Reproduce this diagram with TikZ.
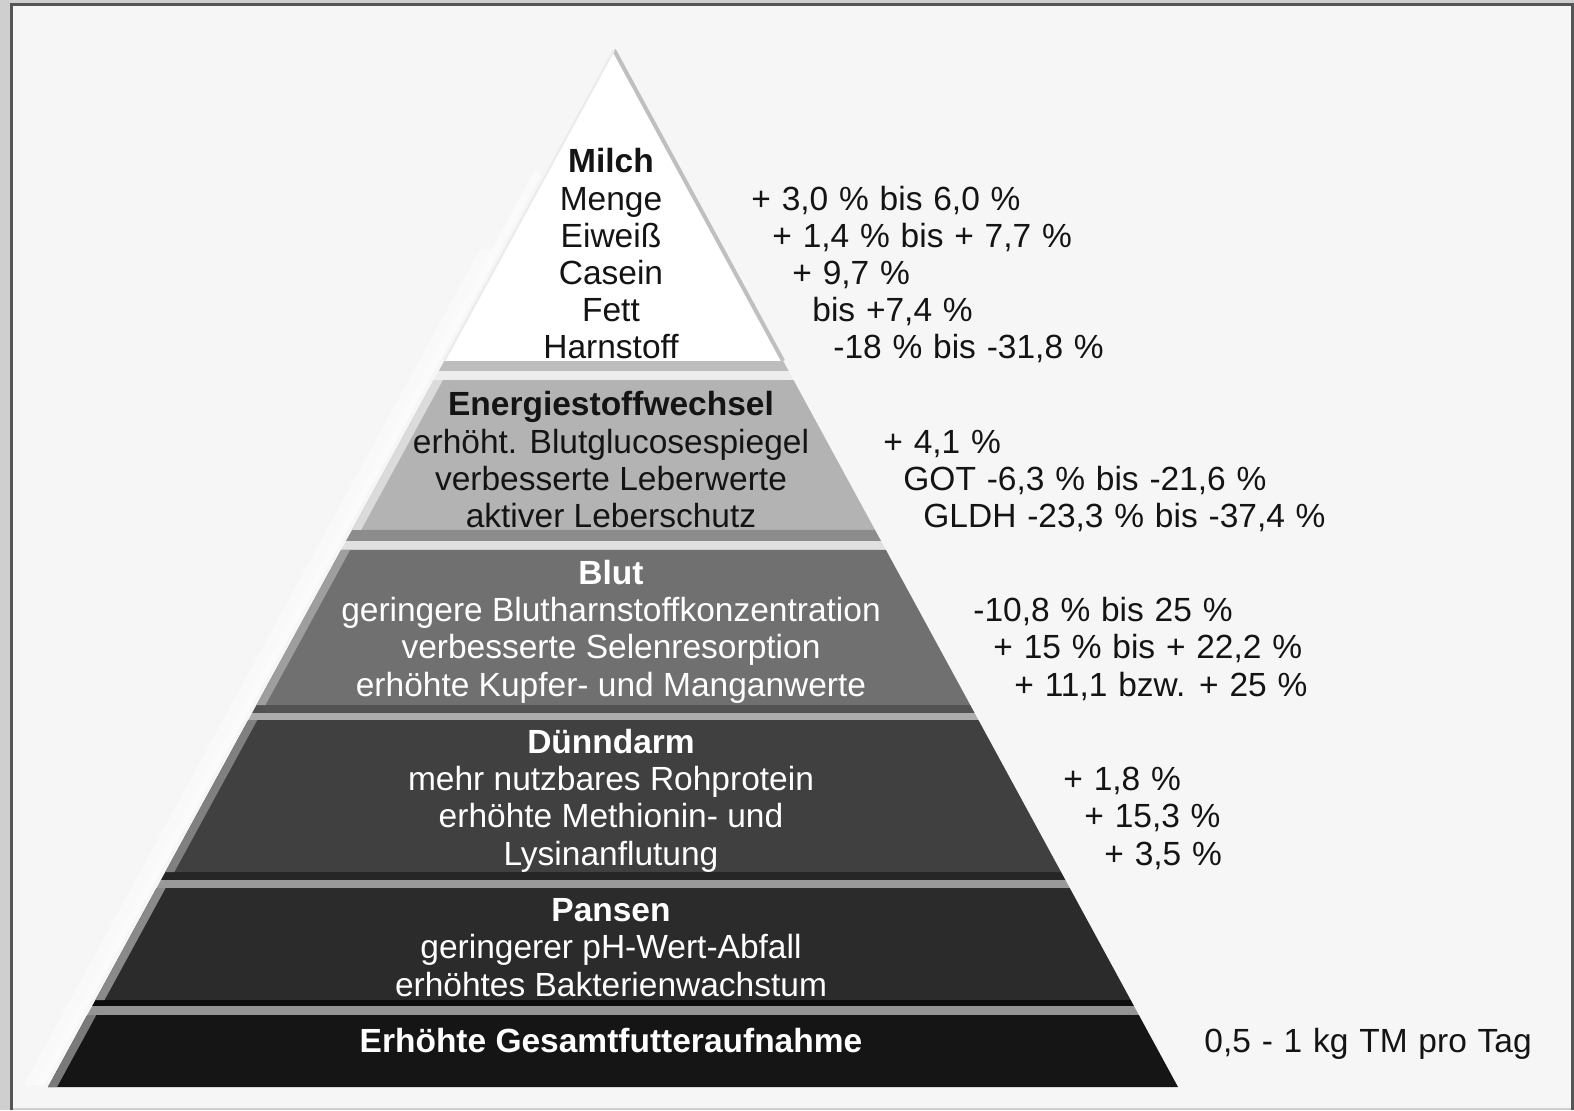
\documentclass[tikz,border=0pt]{standalone}
\usepackage{fontspec}
\setmainfont{Liberation Sans}
\usetikzlibrary{calc}

\definecolor{outerbg}{HTML}{CFCFCF}
\definecolor{pagebg}{HTML}{F6F6F6}
\definecolor{framec}{HTML}{555555}
\definecolor{tierA}{HTML}{FFFFFF}
\definecolor{tierB}{HTML}{B3B3B3}
\definecolor{tierC}{HTML}{707070}
\definecolor{tierD}{HTML}{404040}
\definecolor{tierE}{HTML}{2B2B2B}
\definecolor{tierF}{HTML}{151515}
\definecolor{inktext}{HTML}{141414}

% horizontal slice of the pyramid between heights #1 and #2
\newcommand\pyrslab[3]{%
  \fill[#3] ($(A)!{(#1-50)/1037}!(BL)$) -- ($(A)!{(#1-50)/1037}!(BR)$)
    -- ($(A)!{(#2-50)/1037}!(BR)$) -- ($(A)!{(#2-50)/1037}!(BL)$) -- cycle;}
% lighter bevel along the left face of a slice
\newcommand\pyrbevel[3]{%
  \fill[#3] ($(A)!{(#1-50)/1037}!(BL)$) -- ($(A)!{(#1-50)/1037}!(BL)+(9,0)$)
    -- ($(A)!{(#2-50)/1037}!(BL)+(9,0)$) -- ($(A)!{(#2-50)/1037}!(BL)$) -- cycle;}
% font of the value column, with slightly wider word spaces
\newcommand\valfont{\fontsize{16.75}{18}\selectfont\spaceskip=5.4pt plus 1pt\relax}

\begin{document}
\begin{tikzpicture}[x=0.5pt,y=-0.5pt,
  lbl/.style={anchor=base, inner sep=0pt, font=\fontsize{16.75}{18}\selectfont},
  hd/.style={lbl, font=\fontsize{16.75}{18}\selectfont\bfseries},
  val/.style={anchor=base west, inner sep=0pt, text=inktext, font=\valfont},
  dk/.style={text=inktext},
  lt/.style={text=white}]

\useasboundingbox (0,0) rectangle (1574,1110);
% page and frame
\fill[outerbg] (0,0) rectangle (1574,1110);
\fill[pagebg] (11.5,4) rectangle (1572.5,1108);
\draw[framec, line width=1.5pt] (11.5,1110) -- (11.5,4) -- (1572.5,4) -- (1572.5,1110);

\coordinate (A) at (614,50);
\coordinate (BL) at (48,1087);
\coordinate (BR) at (1178,1087);

% soft light halo left of the pyramid
\begin{scope}
  \clip (0,0) rectangle (1574,1084);
  \draw[white, line width=9pt, opacity=0.4, line cap=round]
    ($(A)!0.2!(BL)+(-15,0)$) -- ($(BL)+(-15,0)$);
  \draw[white, line width=4pt, opacity=0.45, line cap=round]
    ($(A)!0.12!(BL)+(-9,0)$) -- ($(BL)+(-9,0)$);
\end{scope}

% tier bodies
\pyrslab{50}{361}{tierA}
\pyrslab{361}{371}{black!26}
\pyrslab{371}{380}{black!7}
\pyrslab{380}{530}{tierB}
\pyrslab{530}{541}{black!45}
\pyrslab{541}{550}{black!12}
\pyrslab{550}{705}{tierC}
\pyrslab{705}{713}{black!68}
\pyrslab{713}{720}{black!32}
\pyrslab{720}{872}{tierD}
\pyrslab{872}{880}{black!85}
\pyrslab{880}{888}{black!40}
\pyrslab{888}{1000}{tierE}
\pyrslab{1000}{1006}{black!95}
\pyrslab{1006}{1015}{black!42}
\pyrslab{1015}{1087}{tierF}

% left bevels
\pyrbevel{380}{530}{black!14}
\pyrbevel{550}{705}{black!38}
\pyrbevel{720}{872}{black!50}
\pyrbevel{888}{1000}{black!46}
\pyrbevel{1015}{1087}{black!52}

% edge shading of the white top
\draw[black!25, line width=2pt] (A) -- ($(A)!{(361-50)/1037}!(BR)$);
\draw[black!8, line width=1pt] (A) -- ($(A)!{(361-50)/1037}!(BL)$);

% tier 1
\node[hd,dk] (t1h) at (611,172) {Milch};
\node[lbl,dk] (t1a) at (611,210) {Menge};
\node[lbl,dk] (t1b) at (611,247) {Eiweiß};
\node[lbl,dk] (t1c) at (611,284) {Casein};
\node[lbl,dk] (t1d) at (611,321) {Fett};
\node[lbl,dk] (t1e) at (611,358) {Harnstoff};
% tier 2
\node[hd,dk] (t2h) at (611,415) {Energiestoffwechsel};
\node[lbl,dk] (t2a) at (611,453) {erhöht. Blutglucosespiegel};
\node[lbl,dk] (t2b) at (611,490) {verbesserte Leberwerte};
\node[lbl,dk] (t2c) at (611,527) {aktiver Leberschutz};
% tier 3
\node[hd,lt] (t3h) at (611,584) {Blut};
\node[lbl,lt] (t3a) at (611,621) {geringere Blutharnstoffkonzentration};
\node[lbl,lt] (t3b) at (611,658) {verbesserte Selenresorption};
\node[lbl,lt] (t3c) at (611,696) {erhöhte Kupfer- und Manganwerte};
% tier 4
\node[hd,lt] (t4h) at (611,753) {Dünndarm};
\node[lbl,lt] (t4a) at (611,790) {mehr nutzbares Rohprotein};
\node[lbl,lt] (t4b) at (611,827) {erhöhte Methionin- und};
\node[lbl,lt] (t4c) at (611,865) {Lysinanflutung};
% tier 5
\node[hd,lt] (t5h) at (611,921) {Pansen};
\node[lbl,lt] (t5a) at (611,958) {geringerer pH-Wert-Abfall};
\node[lbl,lt] (t5b) at (611,996) {erhöhtes Bakterienwachstum};
% tier 6
\node[hd,lt] (t6h) at (611,1052) {Erhöhte Gesamtfutteraufnahme};

% values beside the pyramid
\node[val] (v1a) at (751,210) {+ 3,0 \% bis 6,0 \%};
\node[val] (v1b) at (772,247) {+ 1,4 \% bis + 7,7 \%};
\node[val] (v1c) at (792,284) {+ 9,7 \%};
\node[val] (v1d) at (812,321) {bis +7,4 \%};
\node[val] (v1e) at (833,358) {-18 \% bis -31,8 \%};
\node[val] (v2a) at (883,453) {+ 4,1 \%};
\node[val] (v2b) at (903,490) {GOT -6,3 \% bis -21,6 \%};
\node[val] (v2c) at (923,527) {GLDH -23,3 \% bis -37,4 \%};
\node[val] (v3a) at (973,621) {-10,8 \% bis 25 \%};
\node[val] (v3b) at (993,658) {+ 15 \% bis + 22,2 \%};
\node[val] (v3c) at (1014,696) {+ 11,1 bzw. + 25 \%};
\node[val] (v4a) at (1063,790) {+ 1,8 \%};
\node[val] (v4b) at (1084,827) {+ 15,3 \%};
\node[val] (v4c) at (1104,865) {+ 3,5 \%};
\node[val] (v6a) at (1204,1052) {0,5 - 1 kg TM pro Tag};
\end{tikzpicture}
\end{document}
